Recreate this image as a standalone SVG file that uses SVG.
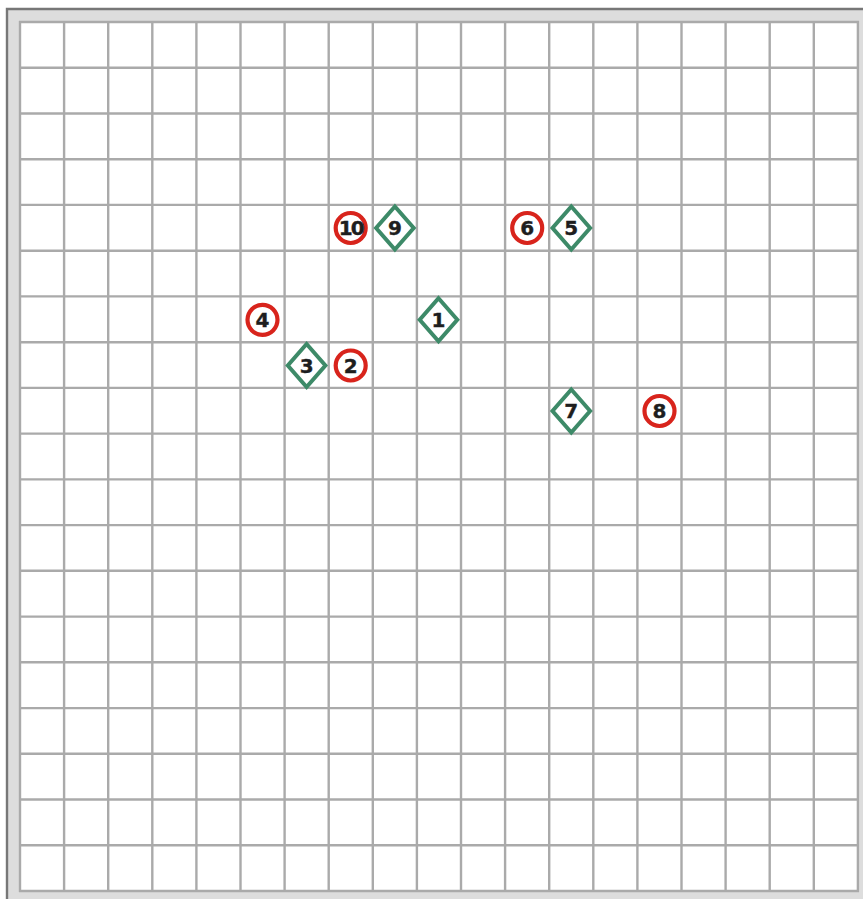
<svg xmlns="http://www.w3.org/2000/svg" width="863" height="899" viewBox="0 0 863 899">
<style>
.grid line{stroke:#aaaaaa;stroke-width:2.4}
.c{fill:#ffffff;stroke:#d8241c;stroke-width:4.2}
.d{fill:#ffffff;stroke:#3d8a68;stroke-width:4;stroke-linejoin:miter}
.t{font-family:"DejaVu Sans",Verdana,sans-serif;font-weight:bold;font-size:20px;fill:#1e1e1e;text-anchor:middle;stroke:#1e1e1e;stroke-width:0.4}
</style>
<defs>
<circle id="cm" r="15" class="c"/>
<path id="dm" d="M0,-21.5 L18.8,0 L0,21.5 L-18.8,0 Z" class="d"/>
</defs>
<rect x="0" y="0" width="863" height="899" fill="#ffffff"/>
<rect x="7" y="9" width="856" height="890" fill="#dddddd"/>
<path d="M7,899 L7,9 L863,9" fill="none" stroke="#777777" stroke-width="2.4"/>
<rect x="20" y="22" width="838" height="869" fill="#ffffff"/>
<g class="grid" id="grid">
<line x1="20" y1="21" x2="20" y2="892"/><line x1="64.1" y1="21" x2="64.1" y2="892"/><line x1="108.2" y1="21" x2="108.2" y2="892"/><line x1="152.3" y1="21" x2="152.3" y2="892"/><line x1="196.4" y1="21" x2="196.4" y2="892"/><line x1="240.5" y1="21" x2="240.5" y2="892"/><line x1="284.6" y1="21" x2="284.6" y2="892"/><line x1="328.7" y1="21" x2="328.7" y2="892"/><line x1="372.8" y1="21" x2="372.8" y2="892"/><line x1="416.9" y1="21" x2="416.9" y2="892"/><line x1="461" y1="21" x2="461" y2="892"/><line x1="505.1" y1="21" x2="505.1" y2="892"/><line x1="549.2" y1="21" x2="549.2" y2="892"/><line x1="593.3" y1="21" x2="593.3" y2="892"/><line x1="637.4" y1="21" x2="637.4" y2="892"/><line x1="681.5" y1="21" x2="681.5" y2="892"/><line x1="725.6" y1="21" x2="725.6" y2="892"/><line x1="769.7" y1="21" x2="769.7" y2="892"/><line x1="813.8" y1="21" x2="813.8" y2="892"/><line x1="857.9" y1="21" x2="857.9" y2="892"/>
<line x1="19" y1="22" x2="859" y2="22"/><line x1="19" y1="67.7" x2="859" y2="67.7"/><line x1="19" y1="113.5" x2="859" y2="113.5"/><line x1="19" y1="159.2" x2="859" y2="159.2"/><line x1="19" y1="204.9" x2="859" y2="204.9"/><line x1="19" y1="250.7" x2="859" y2="250.7"/><line x1="19" y1="296.4" x2="859" y2="296.4"/><line x1="19" y1="342.2" x2="859" y2="342.2"/><line x1="19" y1="387.9" x2="859" y2="387.9"/><line x1="19" y1="433.6" x2="859" y2="433.6"/><line x1="19" y1="479.4" x2="859" y2="479.4"/><line x1="19" y1="525.1" x2="859" y2="525.1"/><line x1="19" y1="570.8" x2="859" y2="570.8"/><line x1="19" y1="616.6" x2="859" y2="616.6"/><line x1="19" y1="662.3" x2="859" y2="662.3"/><line x1="19" y1="708.1" x2="859" y2="708.1"/><line x1="19" y1="753.8" x2="859" y2="753.8"/><line x1="19" y1="799.5" x2="859" y2="799.5"/><line x1="19" y1="845.3" x2="859" y2="845.3"/><line x1="19" y1="891" x2="859" y2="891"/>
</g>
<g id="connectors"></g>
<g id="n1" transform="translate(438.5,319.8)"><use href="#dm"/><text class="t" y="7.2">1</text></g>
<g id="n2" transform="translate(350.7,365.5)"><use href="#cm"/><text class="t" y="7.2">2</text></g>
<g id="n3" transform="translate(306.6,365.5)"><use href="#dm"/><text class="t" y="7.2">3</text></g>
<g id="n4" transform="translate(262.5,319.8)"><use href="#cm"/><text class="t" y="7.2">4</text></g>
<g id="n5" transform="translate(571.3,228)"><use href="#dm"/><text class="t" y="7.2">5</text></g>
<g id="n6" transform="translate(527.2,228)"><use href="#cm"/><text class="t" y="7.2">6</text></g>
<g id="n7" transform="translate(571.3,411)"><use href="#dm"/><text class="t" y="7.2">7</text></g>
<g id="n8" transform="translate(659.5,411)"><use href="#cm"/><text class="t" y="7.2">8</text></g>
<g id="n9" transform="translate(394.9,228)"><use href="#dm"/><text class="t" y="7.2">9</text></g>
<g id="n10" transform="translate(350.7,228)"><use href="#cm"/><text class="t" y="7.2" letter-spacing="-2">10</text></g>
</svg>
